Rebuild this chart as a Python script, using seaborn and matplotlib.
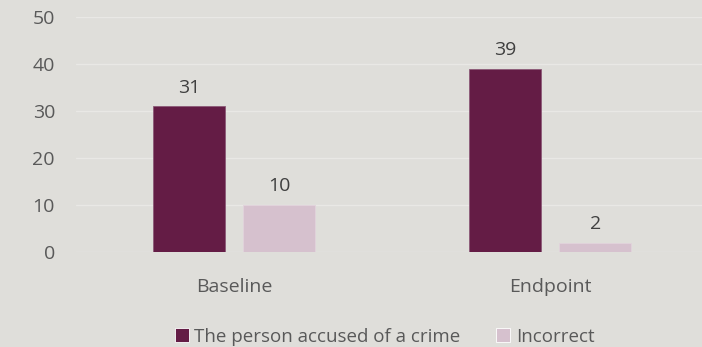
import pandas as pd
import matplotlib.pyplot as plt
import seaborn as sns

# chart data
timepoints = ["Baseline", "Endpoint"]
series_names = ["The person accused of a crime", "Incorrect"]
accused_values = [31, 39]
incorrect_values = [10, 2]

bg = "#DFDEDA"
colors = ["#641C45", "#D6C1CE"]
edge_colors = ["#8C5A78", "#E2D3DC"]
text_col = "#595959"

df = pd.DataFrame({
    "Timepoint": timepoints * 2,
    "Answer": [series_names[0]] * 2 + [series_names[1]] * 2,
    "Count": accused_values + incorrect_values,
})

sns.set_style("white")
plt.rcParams["font.family"] = ["Open Sans", "DejaVu Sans"]

fig = plt.figure(figsize=(7.02, 3.47), dpi=100, facecolor=bg)
ax = fig.add_axes([0.108, 0.274, 0.892, 0.677])
ax.set_facecolor(bg)

sns.barplot(data=df, x="Timepoint", y="Count", hue="Answer", palette=colors,
            saturation=1, width=0.57, gap=0.2, ax=ax, legend=True,
            zorder=3, linewidth=0.6)

# value labels and thin edges
for cont, ec in zip(ax.containers, edge_colors):
    for bar in cont:
        bar.set_edgecolor(ec)
    ax.bar_label(cont, padding=7, fontsize=14, color="#404040")

ax.set_ylim(0, 50)
ax.set_xlim(-0.5, 1.48)
ax.set_yticks(range(0, 51, 10))
ax.yaxis.grid(True, color="#E9E8E5", linewidth=1, zorder=0)
for s in ax.spines.values():
    s.set_visible(False)
ax.set_xlabel("")
ax.set_ylabel("")
ax.tick_params(axis="both", length=0, labelsize=14, labelcolor=text_col)
ax.tick_params(axis="x", pad=19)
ax.tick_params(axis="y", pad=15)

handles, labels = ax.get_legend_handles_labels()
ax.legend_.remove()
fig.legend(handles, labels, loc="lower center", bbox_to_anchor=(0.548, -0.045),
           ncol=2, frameon=False, fontsize=13.5, labelcolor=text_col,
           handlelength=0.75, handleheight=0.75, handletextpad=0.3,
           columnspacing=1.9)

plt.savefig("out.png", dpi=100, facecolor=bg)
